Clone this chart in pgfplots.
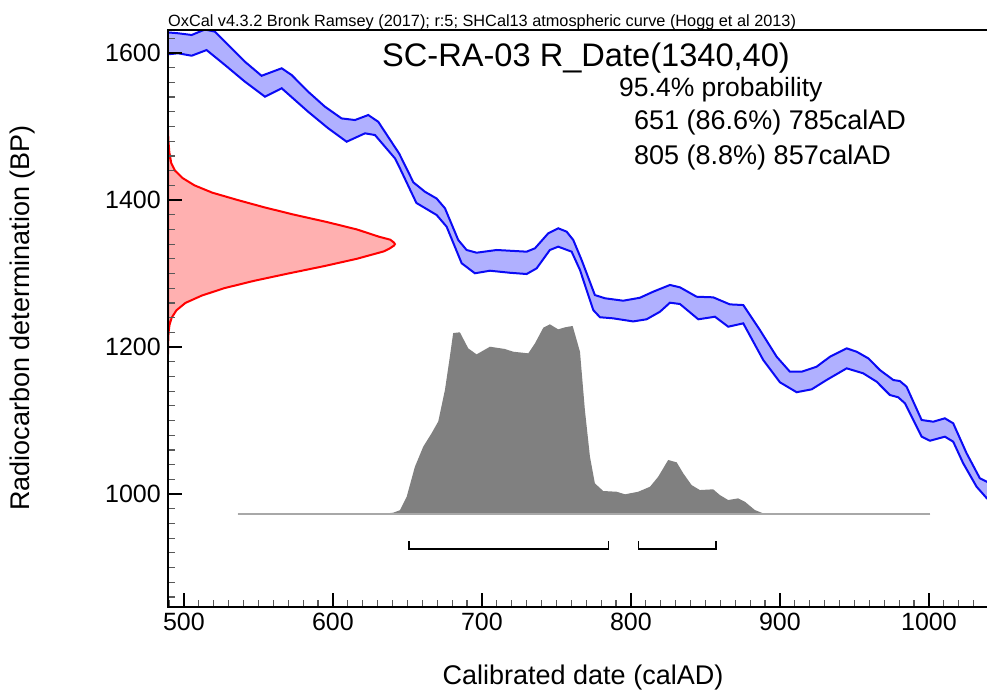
\documentclass[border=0pt]{standalone}
\usepackage{fontspec}
\setmainfont{Liberation Sans}
\usepackage{pgfplots}
\usepackage{pgfplotstable}
\pgfplotsset{compat=1.18}
\usepgfplotslibrary{fillbetween}
\definecolor{bandfill}{HTML}{B0B0FF}
\definecolor{bandline}{HTML}{0A0AF5}
\definecolor{redfill}{HTML}{FFB0B0}
\definecolor{redline}{HTML}{FF0000}
\definecolor{greyfill}{HTML}{808080}
\definecolor{baseln}{HTML}{A8A8A8}

\pgfplotstableread{
cal BP
489.3 1628
496.2 1626.8
505.2 1624.5
514.1 1632
520.8 1629
527.5 1615.4
540.9 1588.2
552.1 1569
565.6 1579.2
572.3 1570
583.4 1547.3
594.6 1527
605.8 1511
614.8 1508.8
623.7 1515.6
630.4 1506.5
644.5 1463
654 1424
661.7 1411.3
669.6 1402
675.2 1388.7
684.1 1345.6
689.7 1332
696.4 1328.3
709.9 1332
730 1329.7
735.6 1334.3
744.5 1354.7
751.2 1361.5
756.8 1357
761.3 1345.6
766.9 1318.4
775.8 1270.7
782.6 1266.3
794.8 1263
806 1267
815 1275.3
826.2 1284.4
832.9 1281.2
844.1 1268.4
855.2 1267.6
866.4 1258
875.4 1257.1
886.6 1223
897.8 1186.8
906.7 1166.4
914.5 1166.4
924.6 1173.2
933.6 1186.8
944.8 1198.2
951.5 1193.6
959.3 1184.6
967.1 1168.7
976.1 1155.1
980.5 1153.7
985 1146
995.1 1100.7
1002.9 1098.4
1010.7 1103
1016.3 1096.2
1025.3 1055.4
1034.2 1021.4
1038.9 1016.7
1041 1014
}\uppercurve

\pgfplotstableread{
cal BP
489.3 1598.2
496 1599.6
505.2 1596.3
515.2 1604
527.5 1583.7
540.9 1561
554.4 1540.5
565.6 1552
583.4 1520
596.8 1497.6
609.2 1479.3
621.5 1490.7
628.2 1488.4
641.6 1456.7
645 1443
656 1396
669.6 1379.6
676.3 1363.7
686.4 1313.9
695.3 1300.3
705.4 1303.8
718.8 1301
730 1299.3
736.7 1307
745.6 1332
751.2 1336.5
760.2 1329.7
765.8 1304.8
774.7 1250.3
779.2 1240.5
788.1 1239
801.5 1234.8
810.5 1237.7
819.5 1248
826.2 1260.3
832.9 1258.5
845.2 1237.7
856.4 1241.2
865.3 1227.6
875.4 1232.2
888.8 1182.3
900 1152
911.2 1138.5
921.3 1142.4
931.3 1155.1
944.8 1171
955.9 1164.2
964.9 1152.8
973.8 1134.7
979.4 1131.6
983.9 1123.4
995.1 1078
1000.7 1072.5
1010.7 1078
1016.3 1071.2
1023 1041.8
1032 1009.9
1038.9 994.1
1041 991
}\lowercurve

\begin{document}
\begin{tikzpicture}
\begin{axis}[
  at={(0pt,0pt)}, anchor=south west,
  scale only axis, width=822pt, height=577pt,
  xmin=489.3, xmax=1041, ymin=846.3, ymax=1631.3,
  xtick={500,600,...,1000}, ytick={1000,1200,1400,1600},
  minor xtick={490,500,...,1040}, minor ytick={860,880,...,1620},
  tick pos=left, tick align=inside,
  major tick length=14pt, minor tick length=7pt,
  major tick style={line width=2pt, black},
  minor tick style={line width=1.2pt, black!65},
  axis line style={line width=2pt, black},
  axis on top=true,
  /pgf/number format/assume math mode=true,
  /pgf/number format/set thousands separator={},
  ticklabel style={font=\fontsize{25}{30}\selectfont},
  xticklabel style={inner sep=0pt, yshift=-6pt},
  yticklabel style={inner sep=0pt, xshift=-7pt},
  xlabel={Calibrated date (calAD)},
  ylabel={Radiocarbon determination (BP)},
  label style={font=\fontsize{27}{32}\selectfont},
  xlabel style={at={(axis description cs:0.50487,-0.13345)}, anchor=base},
  ylabel style={at={(axis description cs:-0.1679,0.5009)}, anchor=base},
]
% calibration curve band
\addplot[draw=none, name path=up, forget plot] table[x=cal, y=BP] {\uppercurve};
\addplot[draw=none, name path=lo, forget plot] table[x=cal, y=BP] {\lowercurve};
\addplot[bandfill] fill between[of=up and lo];
\addplot[bandline, line width=2pt] table[x=cal, y=BP] {\uppercurve};
\addplot[bandline, line width=2pt] table[x=cal, y=BP] {\lowercurve};

% radiocarbon date distribution
\addplot[draw=redline, fill=redfill, line width=2pt] coordinates {
(489.3,1495) (489.6,1480) (490.2,1465) (491.5,1450) (494,1440) (499,1430)
(507,1420) (519,1410) (536,1400) (554,1390) (574,1380) (596,1370) (616,1360)
(631,1350) (638.5,1346) (641,1342) (641.6,1340) (641,1338) (638,1334)
(634,1330) (616,1320) (594,1310) (570,1300) (547,1290)
(527,1280) (512,1270) (501,1260) (495,1250) (491.8,1240) (490.3,1230)
(489.7,1220) (489.4,1205) (489.3,1190)
} -- cycle;

% calibrated distribution
\addplot[fill=greyfill, draw=none] coordinates {
(536,972.4) (630,972.4) (640.5,974.6) (645,978) (649.5,996.3) (655,1037)
(660.6,1064.4) (666.2,1082.6) (670.7,1098.8) (675.2,1141.9) (678.5,1187.2)
(680.7,1219) (685.2,1220) (690.8,1198.2) (696.4,1190) (705.4,1200.4)
(715.4,1197.3) (721,1193.6) (731.1,1191.4) (735.6,1205) (741.2,1226.3)
(745.6,1230.9) (751.2,1224) (755.7,1226.8) (760.9,1228.6) (765.8,1193.6)
(769.1,1114.3) (772.5,1050.7) (775.8,1014.5) (781.4,1004.1) (790.4,1003.1)
(796,999.6) (804.9,1003.1) (812.8,1009.9) (818.3,1023.5) (825,1046.3)
(830.7,1043.1) (835.1,1028.2) (840.7,1012.2) (846.3,1005.4) (855.2,1006.4)
(859.7,998.6) (865.3,991.8) (872,994.1) (876.5,989.5) (883.2,978.2)
(888.8,973.7) (895,972.4) (1001,972.4)
} -- cycle;
\addplot[baseln, line width=2pt] coordinates {(536,972.4) (1001,972.4)};

% 95.4% ranges
\addplot[black, line width=1.5pt] coordinates {(651,936) (651,925.2) (785,925.2) (785,936)};
\addplot[black, line width=1.5pt] coordinates {(805,936) (805,925.2) (857,925.2) (857,936)};
\end{axis}

\node[anchor=base west, inner sep=0pt, font=\fontsize{16.3}{19}\selectfont] at (0pt,580pt)
  {OxCal v4.3.2 Bronk Ramsey (2017); r:5; SHCal13 atmospheric curve (Hogg et al 2013)};
\node[anchor=base west, inner sep=0pt, font=\fontsize{32.6}{38}\selectfont] at (214pt,540pt)
  {SC-RA-03 R\_Date(1340,40)};
\node[anchor=base west, inner sep=0pt, font=\fontsize{26.5}{31}\selectfont] at (451pt,510pt)
  {95.4\% probability};
\node[anchor=base west, inner sep=0pt, font=\fontsize{27}{31}\selectfont] at (466pt,477pt)
  {651 (86.6\%) 785calAD};
\node[anchor=base west, inner sep=0pt, font=\fontsize{27}{31}\selectfont] at (466pt,442pt)
  {805 (8.8\%) 857calAD};

\pgfresetboundingbox
\useasboundingbox (-168pt,-85pt) rectangle (819pt,607pt);
\end{tikzpicture}
\end{document}
